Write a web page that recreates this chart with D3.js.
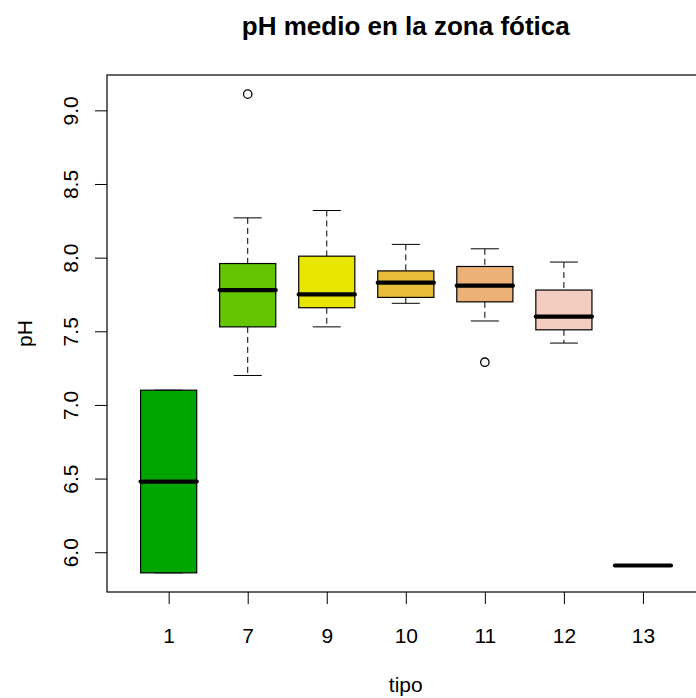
<!DOCTYPE html>
<html>
<head>
<meta charset="utf-8">
<script src="https://cdn.jsdelivr.net/npm/d3@7"></script>
<style>
  body { margin: 0; background: #fff; }
  text { font-family: "Liberation Sans", Arial, sans-serif; fill: #000; }
</style>
</head>
<body>
<script>
// categories (tipo) and box statistics
var tipos   = ["1", "7", "9", "10", "11", "12", "13"];
var lowW    = [5.86, 7.20, 7.53, 7.69, 7.57, 7.42, 5.91];
var q1      = [5.86, 7.53, 7.66, 7.73, 7.70, 7.51, 5.91];
var medians = [6.48, 7.78, 7.75, 7.83, 7.81, 7.60, 5.91];
var q3      = [7.10, 7.96, 8.01, 7.91, 7.94, 7.78, 5.91];
var highW   = [7.10, 8.27, 8.32, 8.09, 8.06, 7.97, 5.91];
var outliers = [[], [9.11], [], [], [7.29], [], []];
var colores = ["#00A600", "#63C600", "#E6E600", "#E9BD3A", "#ECB176", "#F2CDC0", "#F2F2F2"];
var yTicks  = [6.0, 6.5, 7.0, 7.5, 8.0, 8.5, 9.0];

var W = 696, H = 698;
var plotL = 107, plotT = 75, plotB = 592, plotR = 704.6;   // right edge falls outside the picture

var svg = d3.select("body").append("svg")
    .attr("width", W)
    .attr("height", H);

// R style: range extended by 4% on each side
var allVals = lowW.concat(highW, d3.merge(outliers));
var lo = d3.min(allVals), hi = d3.max(allVals);
var pad = (hi - lo) * 0.04;
var y = d3.scaleLinear().domain([lo - pad, hi + pad]).range([plotB, plotT]);

var n = tipos.length;
var xpad = n * 0.04;
var x = d3.scaleLinear().domain([0.5 - xpad, n + 0.5 + xpad]).range([plotL, plotR]);

var boxW = 0.71, capW = 0.355;

var data = tipos.map(function(t, i) {
  return { tipo: t, pos: i + 1, lo: lowW[i], q1: q1[i], med: medians[i], q3: q3[i], hi: highW[i], out: outliers[i], col: colores[i] };
});

var g = svg.selectAll("g.box").data(data).enter().append("g").attr("class", "box");

// whiskers (dashed)
g.append("line")
    .attr("x1", function(d){ return x(d.pos); }).attr("x2", function(d){ return x(d.pos); })
    .attr("y1", function(d){ return y(d.hi); }).attr("y2", function(d){ return y(d.q3); })
    .attr("stroke", "#000").attr("stroke-dasharray", "6,4");
g.append("line")
    .attr("x1", function(d){ return x(d.pos); }).attr("x2", function(d){ return x(d.pos); })
    .attr("y1", function(d){ return y(d.q1); }).attr("y2", function(d){ return y(d.lo); })
    .attr("stroke", "#000").attr("stroke-dasharray", "6,4");

// staples
["hi", "lo"].forEach(function(k) {
  g.append("line")
      .attr("x1", function(d){ return x(d.pos - capW / 2); })
      .attr("x2", function(d){ return x(d.pos + capW / 2); })
      .attr("y1", function(d){ return y(d[k]); })
      .attr("y2", function(d){ return y(d[k]); })
      .attr("stroke", "#000");
});

// boxes
g.append("rect")
    .attr("x", function(d){ return x(d.pos - boxW / 2); })
    .attr("width", function(d){ return x(d.pos + boxW / 2) - x(d.pos - boxW / 2); })
    .attr("y", function(d){ return y(d.q3); })
    .attr("height", function(d){ return y(d.q1) - y(d.q3); })
    .attr("fill", function(d){ return d.col; })
    .attr("stroke", "#000").attr("stroke-width", 1.2);

// medians
g.append("line")
    .attr("x1", function(d){ return x(d.pos - boxW / 2); })
    .attr("x2", function(d){ return x(d.pos + boxW / 2); })
    .attr("y1", function(d){ return y(d.med); })
    .attr("y2", function(d){ return y(d.med); })
    .attr("stroke", "#000").attr("stroke-width", 4.2).attr("stroke-linecap", "round");

// outliers
g.selectAll("circle").data(function(d){ return d.out.map(function(v){ return { pos: d.pos, v: v }; }); })
  .enter().append("circle")
    .attr("cx", function(d){ return x(d.pos); })
    .attr("cy", function(d){ return y(d.v); })
    .attr("r", 4.2)
    .attr("fill", "none").attr("stroke", "#000").attr("stroke-width", 1.3);

// plot frame
svg.append("rect")
    .attr("x", plotL).attr("y", plotT)
    .attr("width", plotR - plotL).attr("height", plotB - plotT)
    .attr("fill", "none").attr("stroke", "#000").attr("stroke-width", 1.2);

// x axis
var xAxis = svg.append("g")
    .attr("transform", "translate(0," + plotB + ")")
    .call(d3.axisBottom(x).tickValues(d3.range(1, n + 1))
        .tickFormat(function(v){ return tipos[v - 1]; }).tickSize(12));
xAxis.select(".domain").remove();
xAxis.selectAll("line").attr("stroke", "#000");
xAxis.selectAll("text")
    .attr("y", 51).attr("dy", 0)
    .style("font-size", "21px");
xAxis.attr("font-family", null);

// y axis
var yAxis = svg.append("g")
    .attr("transform", "translate(" + plotL + ",0)")
    .call(d3.axisLeft(y).tickValues(yTicks).tickFormat(d3.format(".1f")).tickSize(12));
yAxis.select(".domain").remove();
yAxis.selectAll("line").attr("stroke", "#000");
yAxis.selectAll("text")
    .attr("transform", "rotate(-90)")
    .attr("x", 0).attr("y", -29).attr("dy", 0)
    .attr("text-anchor", "middle")
    .style("font-size", "21px");
yAxis.attr("font-family", null);

// titles
svg.append("text")
    .attr("x", (plotL + plotR) / 2).attr("y", 35)
    .attr("text-anchor", "middle")
    .style("font-size", "26px").style("font-weight", "bold")
    .text("pH medio en la zona fótica");

svg.append("text")
    .attr("x", (plotL + plotR) / 2).attr("y", 692)
    .attr("text-anchor", "middle")
    .style("font-size", "21px")
    .text("tipo");

svg.append("text")
    .attr("transform", "translate(32," + (plotT + plotB) / 2 + ") rotate(-90)")
    .attr("text-anchor", "middle")
    .style("font-size", "21px")
    .text("pH");
</script>
</body>
</html>
